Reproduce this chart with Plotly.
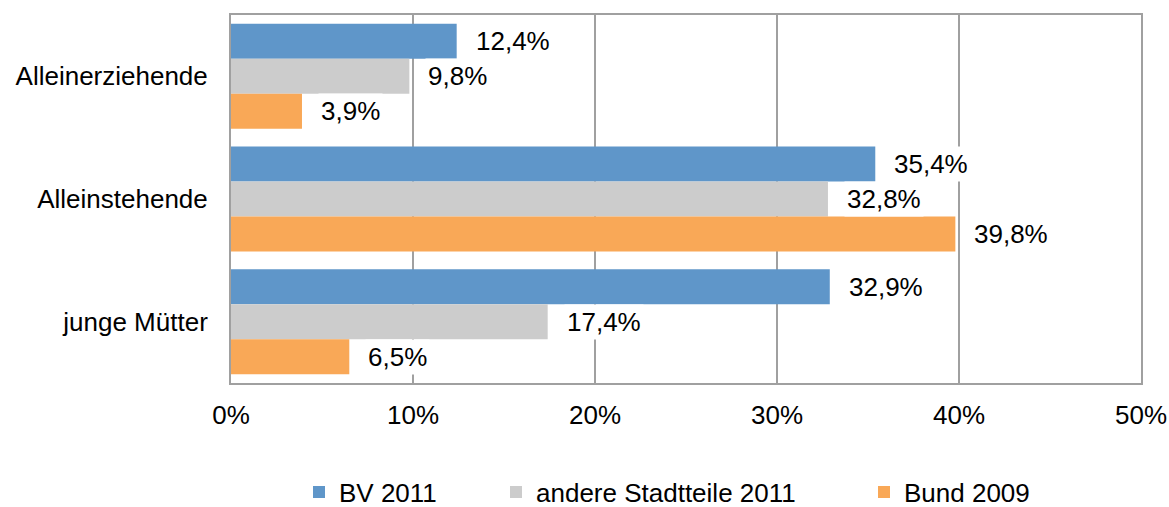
import plotly.graph_objects as go

categories = ["Alleinerziehende", "Alleinstehende", "junge Mütter"]
series_names = ["BV 2011", "andere Stadtteile 2011", "Bund 2009"]
bv_2011 = [12.4, 35.4, 32.9]
andere_2011 = [9.8, 32.8, 17.4]
bund_2009 = [3.9, 39.8, 6.5]
x_ticks = [0, 10, 20, 30, 40, 50]
x_tick_labels = ["0%", "10%", "20%", "30%", "40%", "50%"]

colors = ["#5F96C9", "#CCCCCC", "#F9A857"]
series = [bv_2011, andere_2011, bund_2009]
legend_ids = ["legend", "legend2", "legend3"]
legend_x = [299, 496, 864]  # pixel left positions

FONT = "Liberation Sans, Arial, sans-serif"
FS = 26
bargap = 0.144

W, H = 1169, 507
ML, MR, MT, MB = 231, 28, 15, 124
pw = W - ML - MR
ph = H - MT - MB

fig = go.Figure()
for name, vals, col, lg in zip(series_names, series, colors, legend_ids):
    fig.add_trace(go.Bar(
        y=list(range(len(categories))), x=vals, name=name, orientation="h",
        marker=dict(color=col, line=dict(width=0)), legend=lg,
    ))

bw = (1 - bargap) / len(series)
for k, vals in enumerate(series):
    for i, v in enumerate(vals):
        fig.add_annotation(
            x=v, y=i + (k - 1) * bw, xref="x", yref="y",
            text=f"{v:.1f}%".replace(".", ","), showarrow=False,
            xanchor="left", yanchor="middle", xshift=16,
            bgcolor="white", borderpad=2,
            font=dict(family=FONT, size=FS, color="#000000"),
        )

leg_y = -(492 - (MT + ph)) / ph
legends = {}
for lg, lx in zip(legend_ids, legend_x):
    legends[lg] = dict(orientation="h", x=(lx - ML) / pw, xanchor="left",
                       y=leg_y, yanchor="middle", bgcolor="rgba(0,0,0,0)",
                       font=dict(family=FONT, size=FS, color="#000000"),
                       itemwidth=30, tracegroupgap=0)

fig.update_layout(
    width=W, height=H,
    margin=dict(l=ML, r=MR, t=MT, b=MB, autoexpand=False),
    plot_bgcolor="white", paper_bgcolor="white",
    barmode="group", bargap=bargap, bargroupgap=0,
    font=dict(family=FONT, size=FS, color="#000000"),
    showlegend=True,
    xaxis=dict(range=[0, 50], tickvals=x_ticks, ticktext=x_tick_labels,
               showgrid=True, gridcolor="#A0A0A0", gridwidth=2,
               showline=True, linecolor="#A0A0A0", linewidth=2, mirror=True,
               zeroline=False, ticks="", ticklabelstandoff=8, automargin=False,
               tickfont=dict(family=FONT, size=FS)),
    yaxis=dict(tickvals=list(range(len(categories))), ticktext=categories,
               range=[2.5, -0.5], showgrid=False,
               showline=True, linecolor="#A0A0A0", linewidth=2, mirror=True,
               zeroline=False, ticks="", ticklabelstandoff=16, automargin=False,
               tickfont=dict(family=FONT, size=FS)),
    **legends,
)

fig.write_html("out.html", config={"displayModeBar": False},
               post_script="document.body.style.margin='0';document.body.style.overflow='hidden';")
